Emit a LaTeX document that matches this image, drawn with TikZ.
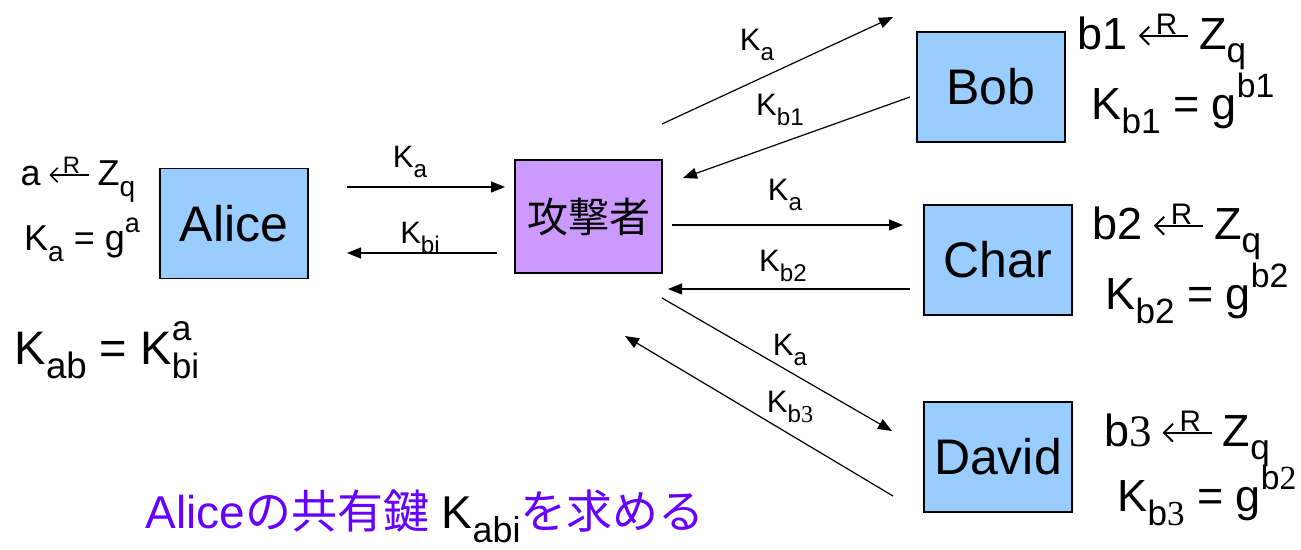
\documentclass[tikz,border=0pt]{standalone}
\usepackage{amsmath}
\usepackage{graphicx}
\usepackage{fontspec}
\setmainfont{Liberation Sans}
\newfontfamily\cjk{Noto Sans CJK JP}
\newfontfamily\serifthree{Liberation Serif}
\usetikzlibrary{arrows.meta}
\definecolor{boxblue}{RGB}{153,204,255}
\definecolor{boxpurple}{RGB}{204,153,255}
\definecolor{txtpurple}{RGB}{102,0,255}
\newlength\gl
\newcommand\getR{%
  \setlength\gl{1em}%
  \edef\glW{\the\dimexpr0.045\gl\relax}%
  \edef\glL{\the\dimexpr0.2\gl\relax}%
  \edef\glB{\the\dimexpr0.4\gl\relax}%
  \edef\glY{\the\dimexpr0.3\gl\relax}%
  \edef\glX{\the\dimexpr1.1\gl\relax}%
  \kern0.22em\rlap{\raisebox{0.33em}{\kern0.4em\scalebox{0.66}{R}}}%
  \tikz[baseline=0pt]{\draw[line width=\glW,{Straight Barb[length=\glL,width=\glB]}-] (0pt,\glY) -- (\glX,\glY);}%
  \kern0.22em}
\newcommand\fs[1]{\fontsize{#1}{#1}\selectfont}
\newcommand\lo[1]{\raisebox{-0.3em}{\scalebox{0.78}{#1}}}
\newcommand\hi[1]{\raisebox{0.5em}{\scalebox{0.75}{#1}}}
\newcommand\subsup[2]{\rlap{\raisebox{0.5em}{\scalebox{0.75}{#2}}}\raisebox{-0.3em}{\scalebox{0.75}{#1}}}
\tikzset{
  party/.style={draw=black,line width=1.2pt,fill=boxblue,minimum width=148pt,minimum height=110pt,inner sep=0pt,font=\fs{50}},
  attacker/.style={party,fill=boxpurple,minimum width=147pt,minimum height=113pt,font=\cjk\fs{41}},
  msg/.style={line width=1.2pt,-{Triangle[length=14pt,width=11pt]}},
  elab/.style={font=\fs{31},inner sep=0pt},
  formula/.style={font=\fs{36},inner sep=0pt},
  bigformula/.style={font=\fs{45},inner sep=0pt}
}
\begin{document}
\begin{tikzpicture}[x=1pt,y=-1pt]
\useasboundingbox (0,0) rectangle (1301,549);
% boxes
\node[party] (alice) at (234,223.5) {Alice};
\node[attacker] (att) at (588.5,216.5) {攻撃者};
\node[party] (bob) at (991,87) {Bob};
\node[party] (char) at (998,260) {Char};
\node[party] (david) at (998,457) {David};
% arrow endpoints
\coordinate (a1) at (347,187); \coordinate (t1) at (505,187);
\coordinate (a2) at (497,253); \coordinate (t2) at (347,253);
\coordinate (b1s) at (662,124); \coordinate (b1e) at (893,17);
\coordinate (b2s) at (910,97); \coordinate (b2e) at (683,178);
\coordinate (c1s) at (672,225); \coordinate (c1e) at (903,225);
\coordinate (c2s) at (910,289); \coordinate (c2e) at (668,289);
\coordinate (d1s) at (662,298); \coordinate (d1e) at (892,431);
\coordinate (d2s) at (893,496); \coordinate (d2e) at (625,336);
% arrows
\draw[msg] (a1) -- (t1);
\draw[msg] (a2) -- (t2);
\draw[msg] (b1s) -- (b1e);
\draw[msg] (b2s) -- (b2e);
\draw[msg] (c1s) -- (c1e);
\draw[msg] (c2s) -- (c2e);
\draw[msg] (d1s) -- (d1e);
\draw[msg] (d2s) -- (d2e);
% arrow labels
\node[elab] (l1) at (410,162) {K\lo{a}};
\node[elab] (l2) at (420,238) {K\lo{bi}};
\node[elab] (l3) at (757,45) {K\lo{a}};
\node[elab] (l4) at (780,110) {K\lo{b1}};
\node[elab] (l5) at (785,195) {K\lo{a}};
\node[elab] (l6) at (783,266) {K\lo{b2}};
\node[elab] (l7) at (790,350) {K\lo{a}};
\node[elab] (l8) at (790,407) {K\lo{b{\serifthree 3}}};
% Alice formulas
\node[formula] (fa1) at (78,180) {a\getR Z\lo{q}};
\node[formula] (fa2) at (82,240) {K\lo{a} = g\hi{a}};
\node[font=\fs{47},inner sep=0pt] (fa3) at (107,350) {K\lo{ab} = K\subsup{bi}{a}};
% Bob formulas
\node[bigformula] (fb1) at (1162,42) {b1\getR Z\lo{q}};
\node[bigformula] (fb2) at (1183,103) {K\lo{b1} = g\hi{b1}};
% Char formulas
\node[bigformula] (fc1) at (1177,232) {b2\getR Z\lo{q}};
\node[bigformula] (fc2) at (1197,293) {K\lo{b2} = g\hi{b2}};
% David formulas
\node[bigformula] (fd1) at (1187,439) {b{\serifthree 3}\getR Z\lo{q}};
\node[bigformula] (fd2) at (1207,495) {K\lo{b{\serifthree 3}} = g\hi{b{\serifthree 2}}};
% bottom caption
\node[inner sep=0pt,font=\fs{46},text=txtpurple] (cap) at (425,516) {Alice{\cjk の共有鍵} \textcolor{black}{K\lo{abi}}{\cjk を求める}};
\end{tikzpicture}
\end{document}
